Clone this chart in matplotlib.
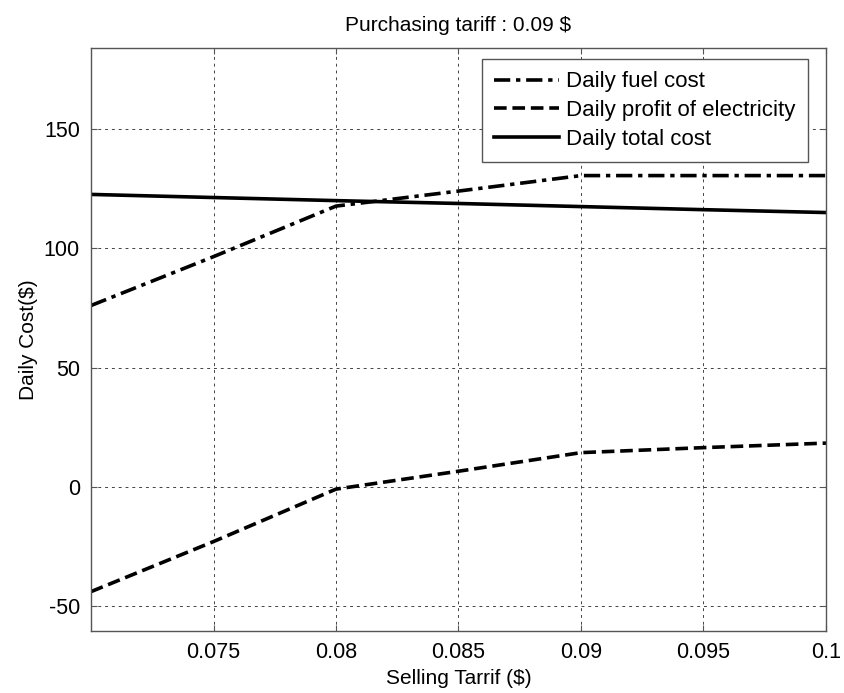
import matplotlib.pyplot as plt
import numpy as np

plt.rcParams['font.family'] = ['Liberation Sans', 'DejaVu Sans']
plt.rcParams['axes.unicode_minus'] = False

# selling tariff ($) and daily costs ($)
tariff = [0.07, 0.075, 0.08, 0.085, 0.09, 0.095, 0.1]
fuel_cost = [76.0, 96.5, 117.7, 124.0, 130.5, 130.5, 130.5]
elec_profit = [-44.0, -23.0, -1.0, 6.5, 14.3, 16.4, 18.3]
total_cost = [122.6, 121.3, 120.0, 118.8, 117.5, 116.2, 115.0]

xticks = [0.075, 0.08, 0.085, 0.09, 0.095, 0.1]
xticklabels = ['0.075', '0.08', '0.085', '0.09', '0.095', '0.1']
yticks = [-50, 0, 50, 100, 150]

fig = plt.figure(figsize=(8.45, 6.93), dpi=100)
ax = fig.add_axes([0.1077, 0.0895, 0.8698, 0.8412])

ax.plot(tariff, fuel_cost, color='k', lw=2.6, linestyle=(0, (4.5, 1.6, 1.2, 1.6)),
        label='Daily fuel cost')
ax.plot(tariff, elec_profit, color='k', lw=2.6, linestyle=(0, (3.5, 1.6)),
        label='Daily profit of electricity')
ax.plot(tariff, total_cost, color='k', lw=2.6, linestyle='-',
        label='Daily total cost')

ax.set_xlim(0.07, 0.1)
ax.set_ylim(-60.5, 184)
ax.set_xticks(xticks)
ax.set_xticklabels(xticklabels)
ax.set_yticks(yticks)
ax.tick_params(direction='in', top=True, right=True, labelsize=15.5, length=4,
               color='#555555', pad=8)
ax.grid(True, color='#444444', linestyle=(0, (3, 4)), linewidth=0.7)
for s in ax.spines.values():
    s.set_color('#555555')
    s.set_linewidth(1.0)

ax.set_title('Purchasing tariff : 0.09 $', fontsize=15, pad=12)
ax.set_xlabel('Selling Tarrif ($)', fontsize=15, labelpad=4)
ax.set_ylabel('Daily Cost($)', fontsize=15, labelpad=4)

leg = ax.legend(loc='upper right', bbox_to_anchor=(0.9755, 0.981), fontsize=16,
                fancybox=False, framealpha=1, edgecolor='#555555',
                handlelength=2.9, handletextpad=0.35, borderaxespad=0,
                labelspacing=0.35, borderpad=0.55)
leg.get_frame().set_linewidth(1.0)

plt.savefig('out.png', dpi=100)
